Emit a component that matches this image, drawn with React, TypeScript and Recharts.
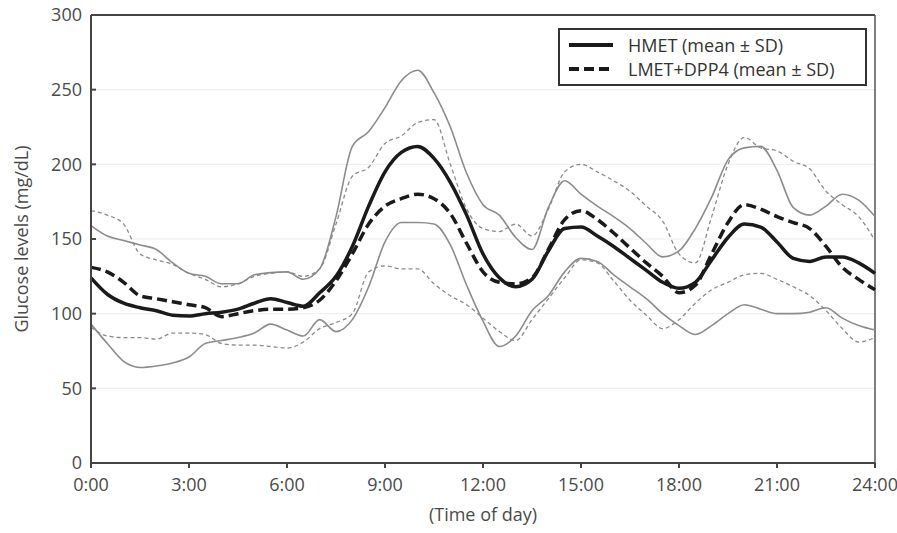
import React from 'react';
import { LineChart, Line, XAxis, YAxis, CartesianGrid, Legend, ReferenceLine } from 'recharts';

// time of day in hours (half-hour steps)
const hours = [
  0, 0.5, 1, 1.5, 2, 2.5, 3, 3.5, 4, 4.5, 5, 5.5, 6, 6.5, 7, 7.5, 8, 8.5, 9, 9.5, 10, 10.5, 11, 11.5,
  12, 12.5, 13, 13.5, 14, 14.5, 15, 15.5, 16, 16.5, 17, 17.5, 18, 18.5, 19, 19.5, 20, 20.5, 21, 21.5,
  22, 22.5, 23, 23.5, 24,
];

const hmetMean = [
  124, 113, 107, 104, 102, 99, 98.5, 100, 101, 103, 107, 110, 107.5, 105, 114, 125, 145, 172, 195, 208,
  212, 204, 188, 166, 140, 124, 118, 123, 142, 157, 158, 152, 145, 137, 129, 121, 117, 121, 136, 151,
  160, 158, 148, 137, 135, 138, 138, 134, 127,
];
const hmetUpper = [
  159, 152, 149, 146, 143, 134, 127, 125, 120, 120, 126, 127.5, 128, 123, 130, 165, 212, 222, 238, 256,
  263, 248, 225, 194, 173, 166, 151, 143, 171, 189, 180, 172, 165, 157, 147, 138, 142, 157, 178, 203,
  211, 212, 196, 171, 166, 172, 180, 176, 165,
];
const hmetLower = [
  93, 80, 68, 64, 65, 67, 71, 80, 82, 84, 87, 93, 89, 85, 96, 88, 96, 118, 148, 161, 161, 160, 146, 119,
  95, 78, 85, 102, 112, 128, 137, 135, 126, 118, 110, 100, 92, 86, 92, 100, 106, 103, 100, 100, 101,
  104, 97, 92, 89,
];

const lmetMean = [
  131, 128, 121, 112, 110, 108, 106, 104, 98, 100, 102, 103, 103, 104, 109, 122, 140, 160, 172, 177,
  180, 177, 167, 147, 128, 121, 120, 124, 143, 163, 169, 163, 154, 144, 134, 125, 114, 119, 140, 161,
  173, 170, 165, 161, 157, 145, 131, 123, 116,
];
const lmetUpper = [
  169, 166, 160, 140, 136, 133, 127, 123, 118, 120, 125, 127, 128, 125, 130, 160, 192, 198, 214, 219,
  228, 230, 200, 170, 157, 155, 160, 152, 170, 195, 200, 195, 189, 182, 172, 162, 140, 134, 165, 200,
  218, 211, 209, 202, 197, 182, 173, 165, 149,
];
const lmetLower = [
  91, 85, 84, 84, 83, 87, 87, 86, 80, 79, 79, 78, 77, 81, 90, 94, 100, 128, 132, 130, 130, 120, 112,
  106, 97, 88, 82, 96, 110, 124, 136, 134, 122, 109, 99, 90, 96, 107, 116, 121, 126, 127, 123, 118,
  112, 102, 90, 81, 84,
];

const xTicks = [0, 3, 6, 9, 12, 15, 18, 21, 24];
const yTicks = [0, 50, 100, 150, 200, 250, 300];
const legendItems = [
  { label: 'HMET (mean ± SD)', dash: undefined },
  { label: 'LMET+DPP4 (mean ± SD)', dash: '10 5' },
];

const data = hours.map((h, i) => ({
  h,
  hmetMean: hmetMean[i],
  hmetUpper: hmetUpper[i],
  hmetLower: hmetLower[i],
  lmetMean: lmetMean[i],
  lmetUpper: lmetUpper[i],
  lmetLower: lmetLower[i],
}));

const font = '"Open Sans", sans-serif';
const axisColor = '#444';
const textColor = '#4a4a4a';

const formatHour = (v: number) => `${v}:00`;

const LegendBox = () => (
  <div
    style={{
      width: 309,
      border: '2px solid #333',
      background: '#fff',
      padding: '3px 0 3px 8px',
      fontFamily: font,
      fontSize: 18,
      color: '#333',
      boxSizing: 'border-box',
    }}
  >
    {legendItems.map((item) => (
      <div key={item.label} style={{ display: 'flex', alignItems: 'center', height: 24 }}>
        <svg width={46} height={10} style={{ marginRight: 14 }}>
          <line x1={1} y1={5} x2={45} y2={5} stroke="#1a1a1a" strokeWidth={4} strokeDasharray={item.dash} />
        </svg>
        <span>{item.label}</span>
      </div>
    ))}
  </div>
);

export default function App() {
  return (
    <div style={{ position: 'absolute', left: 0, top: 0, background: '#fff' }}>
      <LineChart width={897} height={533} data={data} margin={{ top: 15, right: 22, left: 0, bottom: 0 }}>
        <CartesianGrid vertical={false} stroke="#ececec" strokeWidth={1} />
        <XAxis
          dataKey="h"
          type="number"
          domain={[0, 24]}
          ticks={xTicks}
          tickFormatter={formatHour}
          height={70}
          stroke={axisColor}
          strokeWidth={2}
          tickSize={5}
          tickMargin={10}
          tick={{ fill: textColor, fontSize: 18, fontFamily: font }}
          label={{
            value: '(Time of day)',
            position: 'insideBottom',
            offset: 12,
            style: { fill: textColor, fontSize: 18, fontFamily: font },
          }}
        />
        <YAxis
          domain={[0, 300]}
          ticks={yTicks}
          width={91}
          stroke={axisColor}
          strokeWidth={2}
          tickSize={-5}
          tickMargin={14}
          tick={{ fill: textColor, fontSize: 18, fontFamily: font }}
          label={{
            value: 'Glucose levels (mg/dL)',
            angle: -90,
            position: 'insideLeft',
            offset: 22,
            style: { textAnchor: 'middle', fill: textColor, fontSize: 18, fontFamily: font },
          }}
        />
        <ReferenceLine y={300} stroke={axisColor} strokeWidth={2} />
        <ReferenceLine x={24} stroke="#555" strokeWidth={1.5} />
        <Line type="monotone" dataKey="hmetUpper" stroke="#8c8c8c" strokeWidth={1.6} dot={false} isAnimationActive={false} />
        <Line type="monotone" dataKey="hmetLower" stroke="#8c8c8c" strokeWidth={1.6} dot={false} isAnimationActive={false} />
        <Line type="monotone" dataKey="lmetUpper" stroke="#8a8a8a" strokeWidth={1.3} strokeDasharray="4 3" dot={false} isAnimationActive={false} />
        <Line type="monotone" dataKey="lmetLower" stroke="#8a8a8a" strokeWidth={1.3} strokeDasharray="4 3" dot={false} isAnimationActive={false} />
        <Line type="monotone" dataKey="lmetMean" stroke="#1a1a1a" strokeWidth={3.5} strokeDasharray="10 5" dot={false} isAnimationActive={false} />
        <Line type="monotone" dataKey="hmetMean" stroke="#1a1a1a" strokeWidth={3.5} dot={false} isAnimationActive={false} />
        <Legend
          layout="vertical"
          align="center"
          verticalAlign="middle"
          content={<LegendBox />}
          wrapperStyle={{ left: 558, top: 28, width: 309 }}
        />
      </LineChart>
    </div>
  );
}
